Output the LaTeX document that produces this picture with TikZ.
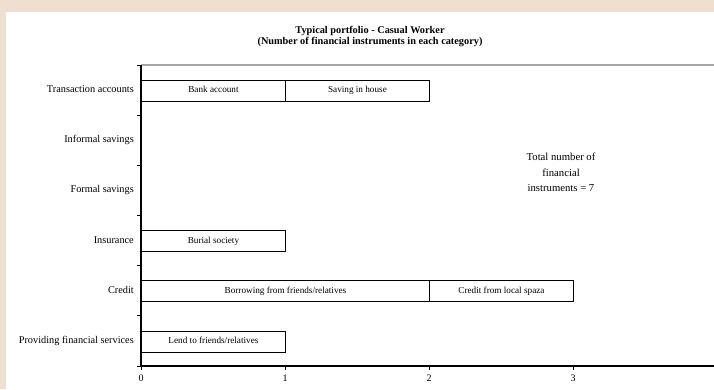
\documentclass[tikz,border=0pt]{standalone}
\usepackage{fontspec}
\setmainfont{Liberation Serif}
\definecolor{beige}{RGB}{238,223,206}
\definecolor{topline}{RGB}{165,165,165}
\begin{document}
\begin{tikzpicture}[x=1bp,y=-1bp,
  catlabel/.style={anchor=east,inner sep=0pt,text height=7bp,text depth=2.2bp,font=\fontsize{10.3bp}{12bp}\selectfont},
  barbox/.style={draw=black,line width=0.9bp,fill=white,minimum height=21bp,inner sep=0pt,text height=6.4bp,text depth=2bp,anchor=west,font=\fontsize{9.2bp}{11bp}\selectfont},
  ticklabel/.style={inner sep=0pt,font=\fontsize{10bp}{12bp}\selectfont},
  axisline/.style={line width=1.3bp,black},
  tickmark/.style={line width=0.9bp,black}]
\useasboundingbox (0,0) rectangle (714,389);
\fill[beige] (0,0) rectangle (714,389);
\fill[white] (6,12) rectangle (714,389);
% title
\node[inner sep=0pt,align=center,font=\fontsize{10.3bp}{11.5bp}\selectfont\bfseries] (title) at (370,36.5)
  {Typical portfolio - Casual Worker\\(Number of financial instruments in each category)};
% plot frame
\coordinate (o) at (141,366);
\coordinate (tl) at (141,65);
\coordinate (tr) at (714,65);
\coordinate (br) at (714,366);
\draw[topline,line width=1.2bp] (tl) -- (tr);
% ticks on y axis
\foreach \k in {0,...,6} {
  \coordinate (yt\k) at (141,{65+50.17*\k});
  \draw[tickmark] (yt\k) -- ++(-4,0);
}
% ticks on x axis
\foreach \k in {0,...,3} {
  \coordinate (xt\k) at ({141+144*\k},366);
  \draw[tickmark] (xt\k) -- ++(0,4);
  \node[ticklabel] (xl\k) at ({141+144*\k},378.5) {\k};
}
\draw[axisline] (tl) -- (o) -- (br);
% category labels
\node[catlabel] (c1) at (134,90.1) {Transaction accounts};
\node[catlabel] (c2) at (134,140.3) {Informal savings};
\node[catlabel] (c3) at (134,190.4) {Formal savings};
\node[catlabel] (c4) at (134,240.6) {Insurance};
\node[catlabel] (c5) at (134,290.8) {Credit};
\node[catlabel] (c6) at (134,341.0) {Providing financial services};
% bars
\node[barbox,minimum width=144bp] (bank) at (141,90.5) {Bank account};
\node[barbox,minimum width=144bp] (house) at (285,90.5) {Saving in house};
\node[barbox,minimum width=144bp] (burial) at (141,240.8) {Burial society};
\node[barbox,minimum width=288bp] (borrow) at (141,291.2) {Borrowing from friends/relatives};
\node[barbox,minimum width=144bp] (spaza) at (429,291.2) {Credit from local spaza};
\node[barbox,minimum width=144bp] (lend) at (141,341.6) {Lend to friends/relatives};
% total note
\node[inner sep=0pt,align=center,font=\fontsize{10.7bp}{15.5bp}\selectfont] (total) at (561,172.5)
  {Total number of\\financial\\instruments = 7};
\end{tikzpicture}
\end{document}
